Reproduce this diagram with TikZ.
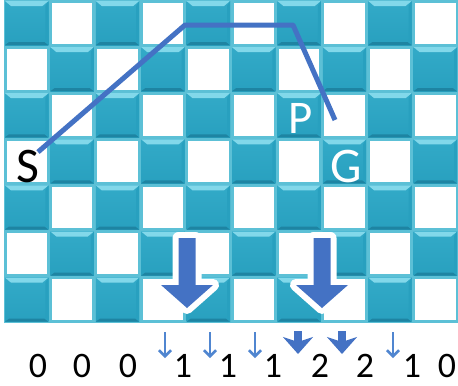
\documentclass[tikz,border=0pt]{standalone}
\usepackage{fontspec}
\setmainfont{Carlito}
\usetikzlibrary{arrows.meta}
\definecolor{gridteal}{RGB}{92,192,214}
\definecolor{cellblue}{RGB}{42,165,196}
\definecolor{celltop}{RGB}{130,216,234}
\definecolor{celldark}{RGB}{30,132,162}
\definecolor{pathblue}{RGB}{68,114,196}
\definecolor{tickblue}{RGB}{80,134,208}

\begin{document}
\begin{tikzpicture}[x=1bp, y=-1bp,
    route/.style={pathblue, line width=5bp, line join=round},
    letter/.style={font=\fontsize{50}{50}\selectfont, anchor=base, inner sep=0pt},
    digit/.style={font=\fontsize{36}{36}\selectfont, anchor=base, inner sep=0pt},
    thintick/.style={tickblue, line width=2.6bp, -{Straight Barb[length=6bp, width=12bp, line width=2.6bp]}},
    thicktick/.style={pathblue, line width=8bp, -{Stealth[length=17bp, width=30bp, inset=5bp]}},
    bigarrow/.style={fill=pathblue, preaction={draw=white, line width=12bp, line join=round}}]
    \useasboundingbox (0,0) rectangle (458,385);

    % board
    \fill[gridteal] (4,0) rectangle (458,323);
    \foreach \r in {0,...,6}{
        \foreach \c in {0,...,9}{
            \pgfmathsetmacro\xa{4+\c*45.4}
            \pgfmathsetmacro\ya{\r*46.1}
            \pgfmathsetmacro\xb{\xa+45.4}
            \pgfmathsetmacro\yb{\ya+46.1}
            \pgfmathtruncatemacro\odd{mod(\r+\c,2)}
            \ifnum\odd=0
                \shade[top color=cellblue!90!celltop, bottom color=cellblue!85!celldark] (\xa+1,\ya+1) rectangle (\xb-1,\yb-1);
                \fill[celltop] (\xa+1,\ya+1) -- (\xb-1,\ya+1) -- (\xb-7,\ya+6) -- (\xa+7,\ya+6) -- cycle;
                \fill[celldark] (\xa+1,\yb-1) -- (\xb-1,\yb-1) -- (\xb-5,\yb-4) -- (\xa+5,\yb-4) -- cycle;
                \fill[cellblue!85!celldark] (\xb-1,\ya+1) -- (\xb-1,\yb-1) -- (\xb-4,\yb-4) -- (\xb-4,\ya+6) -- cycle;
            \else
                \fill[white] (\xa+2.5,\ya+2.5) rectangle (\xb-2.5,\yb-2.5);
            \fi
        }
    }

    % letters
    \node[letter, text=black] (S) at (28,182) {S};
    \node[letter, text=white, font=\fontsize{47}{47}\selectfont] (P) at (301,133) {P};
    \node[letter, text=white] (G) at (346,182) {G};

    % route
    \coordinate (r0) at (38,152);
    \coordinate (r1) at (185,25);
    \coordinate (r2) at (293,25);
    \coordinate (r3) at (335,120);
    \draw[route] (r0) -- (r1) -- (r2) -- (r3);

    % big arrows
    \foreach \x in {187,322}{
        \path[bigarrow] (\x-8.5,238) -- (\x+8.5,238) -- (\x+8.5,285) -- (\x+26,285)
            -- (\x,308) -- (\x-26,285) -- (\x-8.5,285) -- cycle;
    }

    % counts
    \foreach \x/\d [count=\i] in {38/0,82/0,128/0,183/1,228/1,273/1,320/2,365/2,412/1,447/0}
        \node[digit] (d\i) at (\x,377) {\d};
    \foreach \x in {165,210,255,393}
        \draw[thintick] (\x,332) -- (\x,358);
    \foreach \x in {298,342}
        \draw[thicktick] (\x,331) -- (\x,354);
\end{tikzpicture}
\end{document}
